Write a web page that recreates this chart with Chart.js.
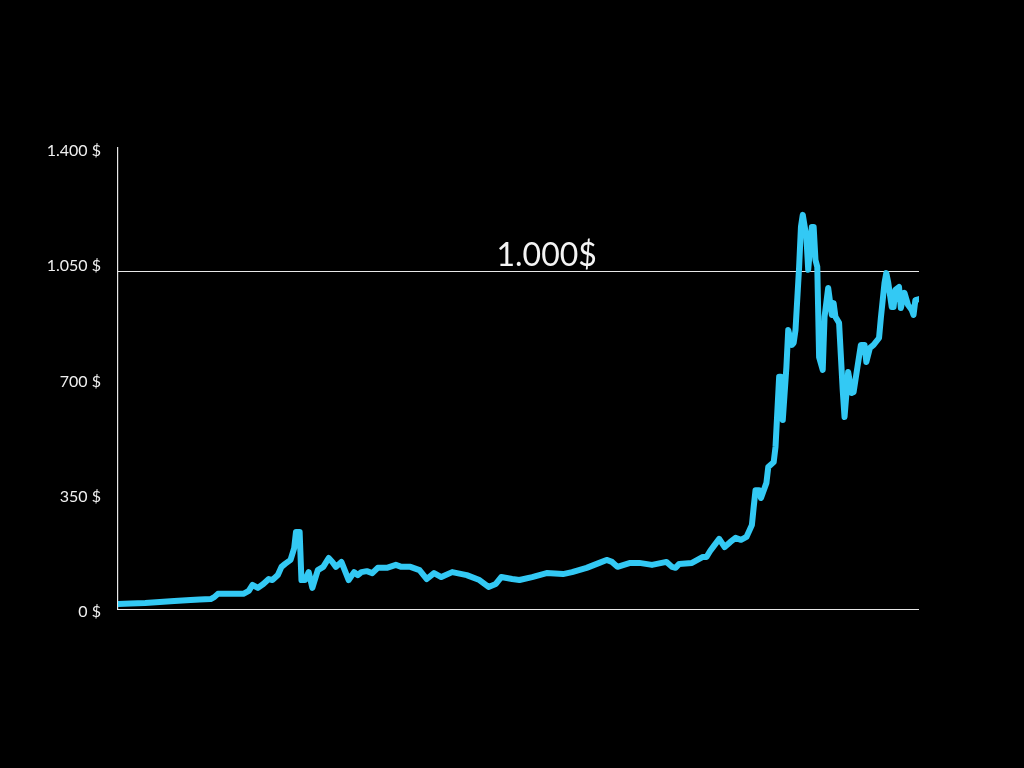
<!DOCTYPE html>
<html>
<head>
<meta charset="utf-8">
<title>Preis</title>
<script src="https://cdn.jsdelivr.net/npm/chart.js@4/dist/chart.umd.js"></script>
<style>
  html, body { margin: 0; padding: 0; background: #000; }
  canvas { display: block; }
</style>
</head>
<body>
<canvas id="priceChart" width="1024" height="768"></canvas>
<script>
// days since start of the series
const days = [
  0, 7, 15, 23, 31, 40, 45, 51, 53, 55, 60, 64, 69, 72, 74, 77, 80, 83, 85, 88,
  90, 92, 95, 97, 98, 100, 101, 103, 105, 107, 110, 113, 116, 118, 120, 123, 127, 130, 132, 134,
  137, 140, 143, 148, 153, 156, 161, 166, 170, 174, 178, 184, 192, 199, 204, 208, 211, 217, 221, 228,
  236, 245, 250, 258, 265, 269, 272, 275, 282, 287, 294, 302, 305, 307, 309, 316, 322, 324, 326, 328,
  331, 334, 337, 340, 343, 346, 349, 350, 351, 353, 354, 357, 358, 361, 362, 364, 365, 366, 368, 369,
  371, 372, 373, 375, 376, 377, 379, 380, 382, 383, 384, 385, 386, 388, 389, 391, 393, 394, 395, 397,
  399, 400, 402, 404, 405, 406, 409, 411, 412, 414, 416, 419, 420, 422, 423, 424, 426, 427, 428, 430,
  431, 433, 435, 437, 438, 439, 441
]

// price in $
const prices = [
  15, 17, 18, 21, 24, 27, 29, 30, 36, 46, 46, 46, 46, 55, 73, 64, 76, 91, 88, 103,
  128, 137, 149, 185, 234, 234, 88, 88, 112, 64, 118, 128, 155, 143, 128, 143, 88, 112, 103, 112,
  115, 109, 125, 125, 134, 128, 128, 118, 91, 109, 97, 112, 103, 88, 67, 76, 97, 91, 88, 97,
  109, 106, 112, 125, 140, 149, 143, 128, 140, 140, 134, 143, 128, 125, 137, 140, 158, 158, 176, 191,
  213, 188, 203, 216, 210, 219, 255, 310, 361, 361, 337, 383, 431, 446, 492, 705, 705, 574, 735, 847,
  802, 808, 847, 1039, 1160, 1197, 1130, 1030, 1160, 1160, 1060, 1039, 765, 726, 887, 975, 893, 929, 887, 869,
  665, 583, 720, 656, 659, 695, 802, 802, 750, 793, 802, 823, 884, 990, 1020, 993, 917, 917, 969, 978,
  914, 960, 923, 908, 893, 938, 941
]

const yTicks = [0, 350, 700, 1050, 1400]
const refLevels = [0, 1025]
const refLabel = "1.000$"
const refLabelDay = 236

const points = days.map((d, i) => ({ x: d, y: prices[i] }))

// 1400 -> "1.400 $"
const formatPrice = (v) => String(v).replace(/\B(?=(\d{3})+(?!\d))/g, ".") + " $"

// white reference lines (under the data) and the "1.000$" caption
const refLinesPlugin = {
  id: "refLines",
  beforeDatasetsDraw(chart) {
    const { ctx, chartArea, scales } = chart
    ctx.save()
    ctx.strokeStyle = "#e8e8e8"
    ctx.lineWidth = 1.2
    refLevels.forEach((level) => {
      const y = Math.round(scales.y.getPixelForValue(level)) + 0.5
      ctx.beginPath()
      ctx.moveTo(chartArea.left, y)
      ctx.lineTo(chartArea.right, y)
      ctx.stroke()
    })
    ctx.restore()
  },
  afterDraw(chart) {
    const { ctx, scales } = chart
    ctx.save()
    ctx.fillStyle = "#f4f4f4"
    ctx.font = "32px Lato, 'Open Sans', sans-serif"
    ctx.textAlign = "center"
    ctx.textBaseline = "alphabetic"
    ctx.fillText(refLabel, scales.x.getPixelForValue(refLabelDay), scales.y.getPixelForValue(refLevels[1]) - 5)
    ctx.restore()
  }
}

new Chart(document.getElementById("priceChart"), {
  type: "line",
  data: {
    datasets: [
      {
        data: points,
        borderColor: "#33c9f4",
        borderWidth: 6,
        pointRadius: 0,
        tension: 0,
        fill: false,
        borderJoinStyle: "round",
        borderCapStyle: "round"
      }
    ]
  },
  options: {
    responsive: false,
    animation: false,
    layout: {
      padding: { left: 0, top: 148, right: 105, bottom: 159 }
    },
    scales: {
      x: {
        type: "linear",
        display: false,
        min: 0,
        max: 441
      },
      y: {
        min: 0,
        max: 1400,
        afterFit: (scale) => { scale.width = 118 },
        afterBuildTicks: (scale) => { scale.ticks = yTicks.map((v) => ({ value: v })) },
        grid: { display: false, drawTicks: false },
        border: { display: true, color: "#e8e8e8", width: 1.2 },
        ticks: {
          padding: 17,
          labelOffset: 3,
          color: "#f0f0f0",
          font: { family: "Lato, 'Open Sans', sans-serif", size: 16 },
          callback: (value) => formatPrice(value)
        }
      }
    },
    plugins: {
      legend: { display: false },
      tooltip: { enabled: false }
    }
  },
  plugins: [refLinesPlugin]
})
</script>
</body>
</html>
